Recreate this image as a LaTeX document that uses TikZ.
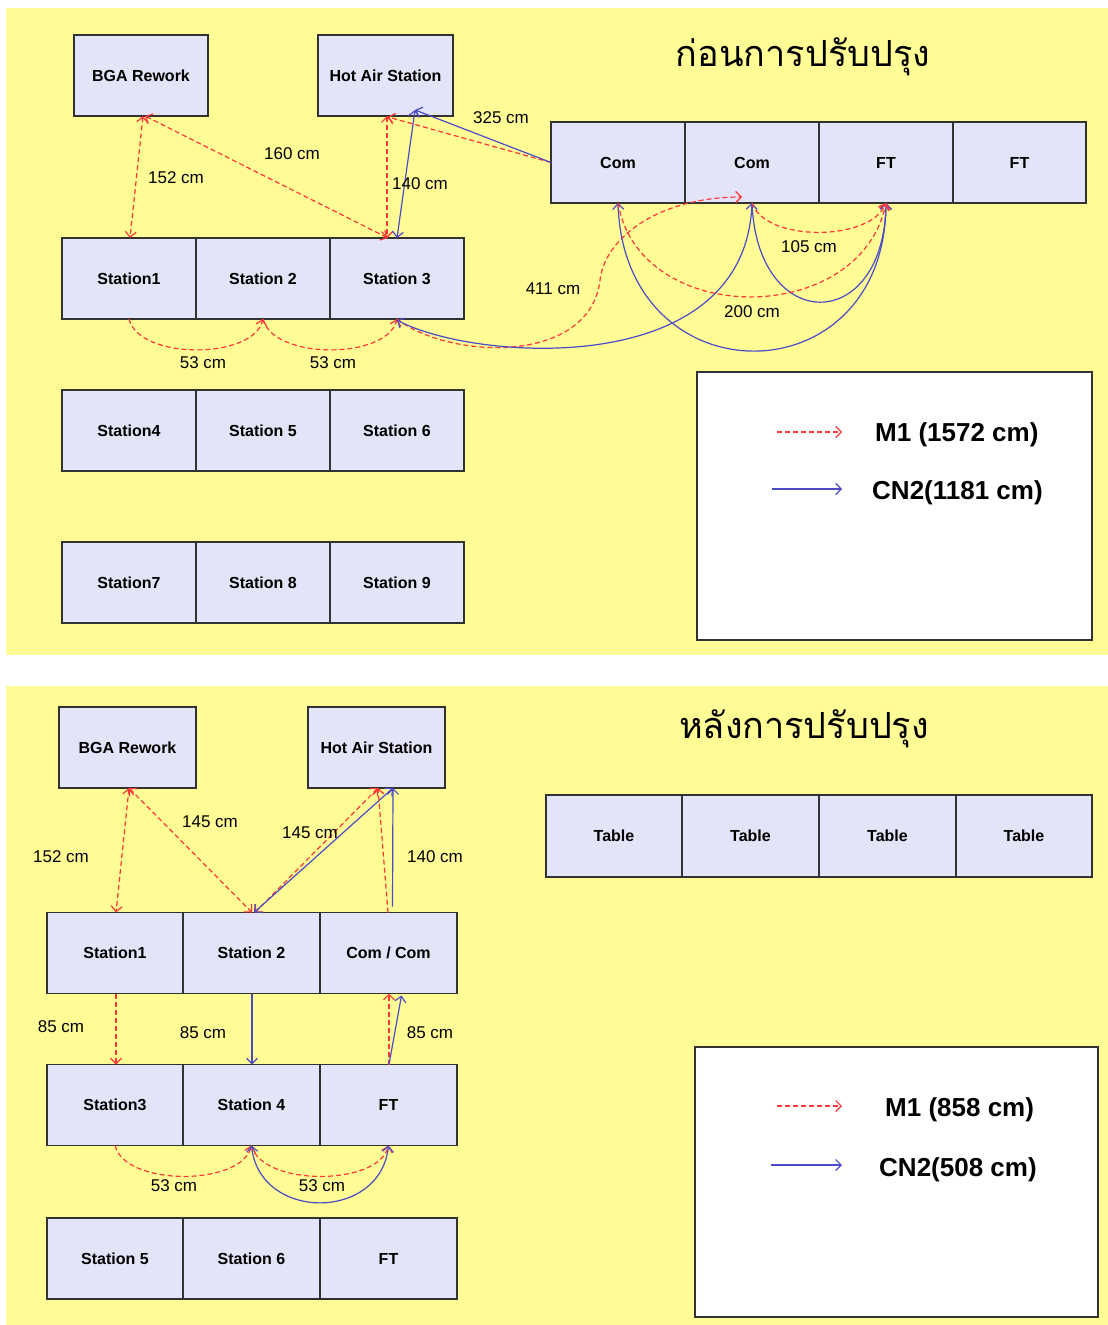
\documentclass[tikz,border=0pt]{standalone}
\usepackage{fontspec}
\setmainfont{Liberation Sans}
\newfontfamily\thaifont[Script=Thai]{Loma}
\usetikzlibrary{arrows.meta,calc}

\definecolor{panel}{RGB}{255,252,150}
\definecolor{cellfill}{RGB}{228,228,249}
\definecolor{edge}{RGB}{50,50,50}
\definecolor{mred}{RGB}{255,55,55}
\definecolor{cblue}{RGB}{75,75,200}

\tikzset{
  cell/.style={draw=edge, fill=cellfill, line width=1.4pt, inner sep=0pt, outer sep=0pt,
    minimum height=81pt, font=\bfseries\fontsize{16}{18}\selectfont},
  keybox/.style={draw=edge, fill=white, line width=1.4pt, inner sep=0pt, outer sep=0pt},
  dist/.style={font=\fontsize{17}{19}\selectfont, inner sep=0pt},
  keytext/.style={font=\bfseries\fontsize{26}{28}\selectfont, inner sep=0pt, anchor=west},
  heading/.style={font=\thaifont\fontsize{36}{40}\selectfont, inner sep=0pt},
  m1/.style={draw=mred, dash pattern=on 5pt off 3pt, line width=1.2pt},
  cn2/.style={draw=cblue, line width=1.2pt},
  >={Straight Barb[length=5.5pt,width=11pt]}
}

\begin{document}
\begin{tikzpicture}[x=1pt,y=-1pt]
\useasboundingbox (0,0) rectangle (1108,1325);
\fill[white] (0,0) rectangle (1108,1325);
\fill[panel] (6,8) rectangle (1108,655);
\fill[panel] (6,686) rectangle (1108,1325);

% ---------------- before the improvement ----------------
\node[heading] (title1) at (803,57) {ก่อนการปรับปรุง};

\node[cell, minimum width=134pt] (bga1) at (141,75.5) {BGA Rework};
\node[cell, minimum width=135pt] (hot1) at (385.5,75.5) {Hot Air Station};

\node[cell, minimum width=134pt] (com1a) at (618,162.5) {Com};
\node[cell, minimum width=134pt] (com1b) at (752,162.5) {Com};
\node[cell, minimum width=134pt] (ft1a) at (886,162.5) {FT};
\node[cell, minimum width=133pt] (ft1b) at (1019.5,162.5) {FT};

\node[cell, minimum width=134pt] (s1a) at (129,278.5) {Station1};
\node[cell, minimum width=134pt] (s2a) at (263,278.5) {Station 2};
\node[cell, minimum width=134pt] (s3a) at (397,278.5) {Station 3};
\node[cell, minimum width=134pt] (s4a) at (129,430.5) {Station4};
\node[cell, minimum width=134pt] (s5a) at (263,430.5) {Station 5};
\node[cell, minimum width=134pt] (s6a) at (397,430.5) {Station 6};
\node[cell, minimum width=134pt] (s7a) at (129,582.5) {Station7};
\node[cell, minimum width=134pt] (s8a) at (263,582.5) {Station 8};
\node[cell, minimum width=134pt] (s9a) at (397,582.5) {Station 9};

\node[keybox, minimum width=395pt, minimum height=268pt] (key1) at (894.5,506) {};

% straight runs
\draw[m1,<->] ([xshift=2pt]bga1.south) -- ([xshift=1pt]s1a.north);
\draw[m1,<->] ([xshift=4pt]bga1.south) -- ([xshift=-9pt]s3a.north);
\draw[m1,<->] ([xshift=1.5pt]hot1.south) -- ([xshift=-10pt]s3a.north);
\draw[cn2,<->] ([xshift=29.5pt,yshift=6pt]hot1.south) -- (s3a.north);
\draw[m1,->] (com1a.west) -- ([xshift=2.5pt,yshift=-1pt]hot1.south);
\draw[cn2,->] (com1a.west) -- ([xshift=29.5pt,yshift=6pt]hot1.south);

% curved runs
\coordinate (k411) at (600,280);
\draw[m1,->] (s2a.south) .. controls +(10,41) and +(-10,41) .. (s3a.south);
\draw[m1,->] (s1a.south) .. controls +(10,41) and +(-10,41) .. (s2a.south);
\draw[m1,->] (s3a.south) .. controls +(53,41) and +(-10,85) .. (k411)
   .. controls +(5,-43) and +(-82,0) .. ([xshift=-10pt,yshift=6pt]com1b.south);
\draw[cn2,<->] ([yshift=-1pt]s3a.south) .. controls +(73,40) and +(-7,180) .. (com1b.south);
\draw[cn2,<->] (com1a.south) .. controls +(6,197) and +(-1,197) .. (ft1a.south);
\draw[cn2,->] (com1b.south) .. controls +(5,132) and +(-2,132) .. (ft1a.south);
\draw[m1,->] (com1a.south) .. controls +(21,125) and +(-26,125) .. (ft1a.south);
\draw[m1,->] (com1b.south) .. controls +(13,39) and +(-16,39) .. (ft1a.south);

% distances
\node[dist] (d152a) at (176,178) {152 cm};
\node[dist] (d160a) at (292,154) {160 cm};
\node[dist] (d140a) at (420,184) {140 cm};
\node[dist] (d325a) at (501,118) {325 cm};
\node[dist] (d411a) at (553,289) {411 cm};
\node[dist] (d105a) at (809,247) {105 cm};
\node[dist] (d200a) at (752,312) {200 cm};
\node[dist] (d53a) at (203,363) {53 cm};
\node[dist] (d53b) at (333,363) {53 cm};

% key
\coordinate (kr1s) at (777,432); \coordinate (kr1e) at (842,432);
\coordinate (kb1s) at (772,489); \coordinate (kb1e) at (842,489);
\draw[m1,->] (kr1s) -- (kr1e);
\draw[cn2,->] (kb1s) -- (kb1e);
\node[keytext] (km1a) at (875,435) {M1 (1572 cm)};
\node[keytext] (kcn1) at (872,493) {CN2(1181 cm)};

% ---------------- after the improvement ----------------
\node[heading] (title2) at (804,729) {หลังการปรับปรุง};

\node[cell, minimum width=137pt] (bga2) at (127.5,747.5) {BGA Rework};
\node[cell, minimum width=137pt] (hot2) at (376.5,747.5) {Hot Air Station};

\node[cell, minimum width=136pt, minimum height=82pt] (tb1) at (614,836) {Table};
\node[cell, minimum width=137pt, minimum height=82pt] (tb2) at (750.5,836) {Table};
\node[cell, minimum width=137pt, minimum height=82pt] (tb3) at (887.5,836) {Table};
\node[cell, minimum width=136pt, minimum height=82pt] (tb4) at (1024,836) {Table};

\node[cell, minimum width=136pt] (s1b) at (115,953) {Station1};
\node[cell, minimum width=137pt] (s2b) at (251.5,953) {Station 2};
\node[cell, minimum width=137pt] (cc) at (388.5,953) {Com / Com};
\node[cell, minimum width=136pt] (s3b) at (115,1105) {Station3};
\node[cell, minimum width=137pt] (s4b) at (251.5,1105) {Station 4};
\node[cell, minimum width=137pt] (ft2) at (388.5,1105) {FT};
\node[cell, minimum width=136pt] (s5b) at (115,1258.5) {Station 5};
\node[cell, minimum width=137pt] (s6b) at (251.5,1258.5) {Station 6};
\node[cell, minimum width=137pt] (ft3) at (388.5,1258.5) {FT};

\node[keybox, minimum width=403pt, minimum height=270pt] (key2) at (896.5,1182) {};

% straight runs
\draw[m1,<->] ([xshift=1.5pt]bga2.south) -- ([xshift=1pt]s1b.north);
\draw[m1,<->] ([xshift=1.5pt]bga2.south) -- ([xshift=0.5pt]s2b.north);
\draw[m1,<->] ([xshift=1.5pt]hot2.south) -- ([xshift=3.5pt]s2b.north);
\draw[cn2,<->] ([xshift=16.5pt]hot2.south) -- ([xshift=2.5pt]s2b.north);
\draw[m1,->] ([xshift=-0.5pt]cc.north) -- ([xshift=1.5pt]hot2.south);
\draw[cn2,->] ([xshift=4pt,yshift=6pt]cc.north) -- ([xshift=16.5pt]hot2.south);
\draw[m1,->] ([xshift=1pt]s1b.south) -- ([xshift=1pt]s3b.north);
\draw[cn2,->] ([xshift=0.5pt]s2b.south) -- ([xshift=0.5pt]s4b.north);
\draw[m1,->] ([xshift=0.5pt]ft2.north) -- ([xshift=0.5pt]cc.south);
\draw[cn2,->] ([xshift=0.5pt]ft2.north) -- ([xshift=13pt,yshift=-2pt]cc.south);

% curved runs
\draw[m1,->] (s3b.south) .. controls +(10,41) and +(-10,41) .. (s4b.south);
\draw[m1,->] (s4b.south) .. controls +(10,41) and +(-10,41) .. (ft2.south);
\draw[cn2,<->] (s4b.south) .. controls +(8,76) and +(-8,76) .. (ft2.south);

% distances
\node[dist] (d152b) at (61,857) {152 cm};
\node[dist] (d145b) at (210,822) {145 cm};
\node[dist] (d145c) at (310,833) {145 cm};
\node[dist] (d140b) at (435,857) {140 cm};
\node[dist] (d85a) at (61,1027) {85 cm};
\node[dist] (d85b) at (203,1033) {85 cm};
\node[dist] (d85c) at (430,1033) {85 cm};
\node[dist] (d53c) at (174,1186) {53 cm};
\node[dist] (d53d) at (322,1186) {53 cm};

% key
\coordinate (kr2s) at (777,1106); \coordinate (kr2e) at (842,1106);
\coordinate (kb2s) at (771,1165); \coordinate (kb2e) at (842,1165);
\draw[m1,->] (kr2s) -- (kr2e);
\draw[cn2,->] (kb2s) -- (kb2e);
\node[keytext] (km1b) at (885,1110) {M1 (858 cm)};
\node[keytext] (kcn2) at (879,1170) {CN2(508 cm)};
\end{tikzpicture}
\end{document}
